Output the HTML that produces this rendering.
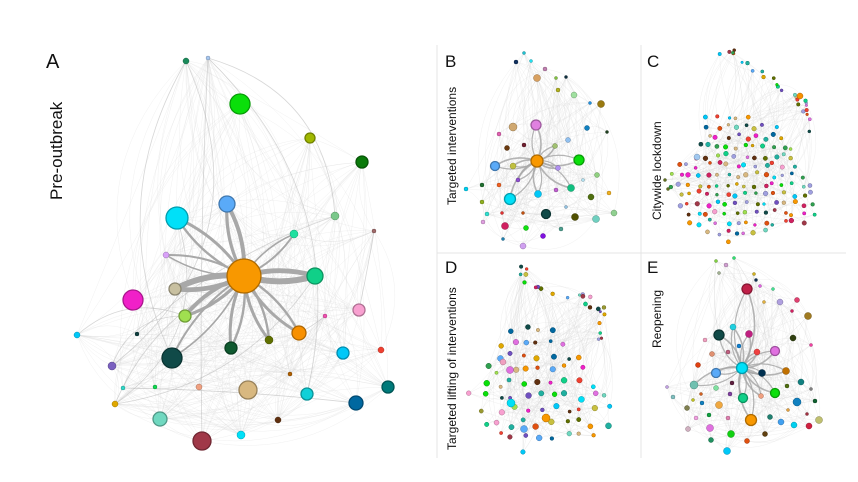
<!DOCTYPE html>
<html><head><meta charset="utf-8"><style>
html,body{margin:0;padding:0;background:#fff;}
svg{display:block;}
text{font-family:"Liberation Sans",sans-serif;fill:#111;}
</style></head><body>
<svg id="s" width="858" height="482" viewBox="0 0 858 482" xmlns="http://www.w3.org/2000/svg">
<rect width="858" height="482" fill="#fff"/>
<g id="edges" fill="none"></g>
<g id="arrows" fill="none" stroke="#a8a8a8"></g>
<g id="nodes"></g>
<line x1="437" y1="45" x2="437" y2="458" stroke="#e4e4e4" stroke-width="1"/>
<line x1="641" y1="45" x2="641" y2="458" stroke="#e4e4e4" stroke-width="1"/>
<line x1="437" y1="253" x2="846" y2="253" stroke="#e4e4e4" stroke-width="1"/>
<text x="46" y="68" font-size="20">A</text>
<text transform="translate(62,200) rotate(-90)" font-size="17">Pre-outbreak</text>
<text x="445" y="67" font-size="17">B</text>
<text transform="translate(456,205) rotate(-90)" font-size="12">Targeted interventions</text>
<text x="647" y="67" font-size="17">C</text>
<text transform="translate(661,220) rotate(-90)" font-size="12">Citywide lockdown</text>
<text x="445" y="273" font-size="17">D</text>
<text transform="translate(456,450) rotate(-90)" font-size="12">Targeted lifting of interventions</text>
<text x="647" y="273" font-size="17">E</text>
<text transform="translate(661,348) rotate(-90)" font-size="12">Reopening</text>
</svg>
<script>
var NS="http://www.w3.org/2000/svg";
var seed=12345;function rnd(){seed=(seed*1103515245+12345)%2147483648;return seed/2147483648;}
var E=document.getElementById("edges"),N=document.getElementById("nodes"),AR=document.getElementById("arrows");
function mk(t,a,p){var e=document.createElementNS(NS,t);for(var k in a)e.setAttribute(k,a[k]);p.appendChild(e);return e;}
function curve(a,b,p,st,w,op,cv){var mx=(a[0]+b[0])/2,my=(a[1]+b[1])/2,dx=b[0]-a[0],dy=b[1]-a[1];var c=cv===undefined?(rnd()-0.5)*0.8:cv;
 mk("path",{d:"M"+a[0]+","+a[1]+" Q"+(mx-dy*c)+","+(my+dx*c)+" "+b[0]+","+b[1],stroke:st,"stroke-width":w,"stroke-opacity":op},p);}
function dark(h){var r=parseInt(h.substr(1,2),16),g=parseInt(h.substr(3,2),16),b=parseInt(h.substr(5,2),16);
 return "rgb("+Math.round(r*.7)+","+Math.round(g*.7)+","+Math.round(b*.7)+")";}
function node(x,y,r,c){mk("circle",{cx:x,cy:y,r:r,fill:c,stroke:dark(c),"stroke-width":r>4?1.3:0.5},N);}
var A=[[186,61,3,"#1a8a5a"],[208,58,2,"#a8c8f0"],[240,104,10,"#0adf0a"],[310,138,5,"#a0b800"],[362,162,6,"#0a7a0a"],
[177,218,11,"#00e0f8"],[227,204,8,"#5aaaf8"],[335,216,4,"#7ac88a"],[374,231,2,"#a06a6a"],[294,234,4,"#20e0a0"],
[166,255,3,"#d8a0f8"],[315,276,8,"#10d088"],[175,289,6,"#c8c0a0"],[133,300,10,"#f020c8"],[185,316,6,"#a0e050"],
[359,310,6,"#f8a0d0"],[325,316,2,"#f050b0"],[299,333,7,"#f89000"],[77,335,3,"#00c8f8"],[137,334,2,"#104040"],
[269,340,4,"#607000"],[231,348,6,"#105a30"],[172,358,10,"#104a48"],[343,353,6,"#00c8f8"],[381,350,3,"#f04030"],
[112,366,4,"#7a60c0"],[290,374,2,"#b06000"],[123,388,2,"#30d8c8"],[155,387,2,"#10d850"],[199,387,3,"#f0a080"],
[248,390,9,"#d8b880"],[307,394,6,"#10d0d8"],[388,387,6,"#007a7a"],[115,404,3,"#e0a800"],[356,403,7,"#0068a0"],
[160,419,7,"#70d8c0"],[278,420,3,"#603010"],[202,441,9,"#a03848"],[241,435,4,"#00e0f8"],[244,276,17,"#f89800"]];
for(var i=0;i<420;i++){var a=A[Math.floor(rnd()*A.length)],b=A[Math.floor(rnd()*A.length)];if(a!==b)curve(a,b,E,"#d4d4d4",0.5,0.35);}
for(var i=0;i<14;i++){var a=A[Math.floor(rnd()*A.length)],b=A[Math.floor(rnd()*A.length)];if(a!==b)curve(a,b,E,"#b0b0b0",0.8,0.5);}
var C=[244,276];
[[227,204,4],[177,218,3],[315,276,6],[175,289,6],[185,316,4],[299,333,3],[231,348,3],[269,340,3],[172,358,2],[294,234,2],[166,255,2]].forEach(function(t){
 curve(C,[t[0],t[1]],AR,"#a8a8a8",t[2],1,0.15);curve([t[0],t[1]],C,AR,"#a8a8a8",t[2]*0.8,1,0.15);});
A.forEach(function(n){node(n[0],n[1],n[2],n[3]);});

var pal=["#f89800","#00c8f8","#10d088","#f020c8","#a0e050","#104a48","#d8b880","#a03848","#5aaaf8","#0adf0a","#607000","#e070e0","#7050c0","#f04030","#20b0a0","#c8c040","#70d8c0","#0068a0","#603010","#f8a0d0","#9a9a30","#30a050","#d02060","#a0a0e0","#e0a800","#00e0f8","#e05010"];
function pc(){return pal[Math.floor(rnd()*pal.length)];}
function inPoly(x,y,P){var c=false;for(var i=0,j=P.length-1;i<P.length;j=i++){var xi=P[i][0],yi=P[i][1],xj=P[j][0],yj=P[j][1];
 if(((yi>y)!=(yj>y))&&(x<(xj-xi)*(y-yi)/(yj-yi)+xi))c=!c;}return c;}
function grid(P,s,r0,r1){var pts=[],minx=1e9,maxx=0,miny=1e9,maxy=0;P.forEach(function(p){minx=Math.min(minx,p[0]);maxx=Math.max(maxx,p[0]);miny=Math.min(miny,p[1]);maxy=Math.max(maxy,p[1]);});
 for(var y=miny+s/2;y<maxy;y+=s)for(var x=minx+s/2;x<maxx;x+=s){var px=x+(rnd()-0.5)*s*0.6,py=y+(rnd()-0.5)*s*0.6;if(inPoly(px,py,P))pts.push([px,py,r0+rnd()*r1,pc()]);}
 return pts;}
function trail(W,n,j,r0,r1){var pts=[];for(var i=0;i<n;i++){var t=rnd()*(W.length-1),k=Math.min(Math.floor(t),W.length-2),f=t-k;
 var x=W[k][0]+(W[k+1][0]-W[k][0])*f+(rnd()-0.5)*j,y=W[k][1]+(W[k+1][1]-W[k][1])*f+(rnd()-0.5)*j;pts.push([x,y,r0+rnd()*r1,pc()]);}return pts;}
function drawPanel(pts,ne,hub,hubs){for(var i=0;i<ne;i++){var a=pts[Math.floor(rnd()*pts.length)],b=pts[Math.floor(rnd()*pts.length)];if(a!==b)curve(a,b,E,"#d4d4d4",0.5,0.35);}
 (hubs||[]).forEach(function(h){curve(hub,h,E,"#a8a8a8",1.6,0.85,0.25);curve(h,hub,E,"#a8a8a8",1.2,0.85,0.25);});
 pts.forEach(function(p){node(p[0],p[1],p[2],p[3]);});}

var B=[[524,53,1.5,"#20c0d0"],[516,62,2,"#103060"],[531,61,1.5,"#20e0f0"],[545,69,2,"#c080b0"],[537,78,3.5,"#d8a060"],[556,78,1.5,"#80c040"],[566,77,1.5,"#103040"],[558,90,2,"#b0b020"],[574,95,3,"#a0e0a0"],[590,103,1.5,"#2090e0"],[601,104,3.5,"#9a7a10"],[587,128,2.5,"#1080c0"],[607,132,1.5,"#204020"],[513,127,4,"#d0a870"],[536,125,5,"#e080e0"],[499,134,2,"#e060b0"],[507,148,2.5,"#6a3a10"],[524,145,2,"#702030"],[555,146,2.5,"#a0c070"],[568,140,2.5,"#90c0f0"],[579,160,5,"#0adf0a"],[495,166,4.5,"#5aaaf8"],[513,166,3,"#c0c040"],[558,168,2.5,"#b090f0"],[597,175,2.5,"#90d080"],[518,180,2,"#9050d0"],[466,189,2,"#00d0f0"],[482,185,2,"#207030"],[499,185,2,"#f06020"],[510,199,5.5,"#00e0f8"],[538,194,3.5,"#00c8f8"],[556,190,2,"#c060d0"],[571,188,3.5,"#10c080"],[583,180,1.5,"#b0e0f0"],[591,197,3,"#507010"],[609,193,2,"#f0b020"],[482,202,2,"#90b020"],[487,214,2,"#30e0d0"],[502,213,1.5,"#e03030"],[523,213,1.5,"#c05010"],[546,214,4.5,"#104a48"],[566,207,1.5,"#90c0e0"],[575,217,3.5,"#505000"],[596,219,3.5,"#70d0c0"],[614,213,3,"#90d090"],[483,222,2,"#e0a0e0"],[505,226,3.5,"#d02060"],[526,228,2.5,"#10e010"],[543,236,2.5,"#8010e0"],[561,229,2,"#50a090"],[503,239,1.5,"#2080b0"],[523,246,3,"#d0a0f0"],[537,161,6,"#f89800"]];
var bh=B[B.length-1];
drawPanel(B,260,bh,[B[14],B[20],B[21],B[22],B[29],B[30],B[23],B[18],B[32],B[25]]);

var Cp=grid([[705,117],[740,113],[780,127],[797,152],[807,178],[822,213],[813,222],[767,232],[730,245],[687,222],[665,178],[693,152]],9.5,1.4,1);
Cp=Cp.concat(trail([[717,59],[735,54],[750,68],[773,85],[800,97],[808,112],[810,130]],26,10,1.2,0.8));
Cp.push([800,96,3,"#f89000"],[697,157,3,"#a0c8f0"],[665,180,1.5,"#607020"],[668,189,1.5,"#607020"]);
drawPanel(Cp,330);

var Dp=grid([[504,322],[544,322],[577,335],[594,369],[614,399],[615,425],[587,439],[524,454],[487,432],[465,389],[490,352]],13.5,1.6,1.4);
Dp=Dp.concat(trail([[509,259],[537,289],[570,292],[594,300],[604,315],[602,340]],24,12,1.2,1));
Dp.push([511,403,4,"#00e0f8"],[546,418,4,"#f89800"],[510,370,3.5,"#e070e0"],[524,429,3.5,"#5aaaf8"],[503,362,3,"#f0a0c0"]);
drawPanel(Dp,320);

var Ep=[[716,261,1.5,"#80d040"],[734,258,1.5,"#30e070"],[726,265,2,"#d0a0d0"],[719,273,1.5,"#a0b090"],[754,274,1.5,"#d0b020"],[756,280,1.5,"#103050"],[760,286,1.5,"#e060e0"],[747,289,5,"#c02048"],[773,289,1.5,"#40e090"],[764,302,1.5,"#e0b040"],[780,302,3,"#b0a0e0"],[797,300,2.5,"#e04070"],[792,311,1.5,"#d02060"],[808,316,3.5,"#a07a20"],[733,327,3,"#20d0e0"],[719,335,5,"#104a48"],[749,334,3.5,"#c02080"],[793,338,3,"#304010"],[811,345,1.5,"#f040a0"],[705,340,2,"#f0a0c0"],[739,346,2,"#1080d0"],[728,352,2,"#c06080"],[712,354,2.5,"#e09070"],[757,352,3,"#f04040"],[775,351,4.5,"#e070e0"],[698,365,2.5,"#e04010"],[716,373,4.5,"#5aaaf8"],[762,373,3.5,"#003050"],[786,371,3.5,"#c07000"],[694,385,4,"#70c0b0"],[667,387,1.5,"#c0a0e0"],[732,383,2,"#602040"],[716,388,2.5,"#80e0a0"],[701,394,1.5,"#d06020"],[787,386,2,"#507010"],[801,382,3,"#108080"],[811,389,1.5,"#808080"],[673,397,2,"#80c0c0"],[693,400,1.5,"#c0c020"],[730,394,2,"#8040a0"],[743,398,4.5,"#10d088"],[761,396,2.5,"#f0a080"],[775,393,4.5,"#0adf0a"],[702,403,2,"#1080c0"],[719,405,3.5,"#f0a840"],[797,402,4,"#1080c0"],[815,401,2,"#106030"],[687,408,2.5,"#808050"],[788,410,1.5,"#e0a040"],[709,415,2,"#10a040"],[770,417,2.5,"#208070"],[807,414,1.5,"#a03040"],[696,418,2,"#f0a0e0"],[728,418,2,"#e080b0"],[751,420,5.5,"#f89800"],[781,422,3,"#40a0f0"],[794,425,3,"#00d0f0"],[809,426,3,"#d02040"],[819,420,3.5,"#c0c070"],[688,429,2.5,"#d0b0c0"],[710,428,3.5,"#e070e0"],[731,434,3.5,"#10d010"],[765,434,2.5,"#604010"],[711,440,2.5,"#209060"],[747,441,2.5,"#e05010"],[727,451,3.5,"#00c8f8"],[742,368,5.5,"#00e0f8"]];
var eh=Ep[Ep.length-1];
drawPanel(Ep,300,eh,[Ep[7],Ep[14],Ep[15],Ep[16],Ep[23],Ep[24],Ep[26],Ep[27],Ep[28],Ep[40],Ep[42],Ep[41],Ep[54],Ep[29]]);
</script>
</body></html>
